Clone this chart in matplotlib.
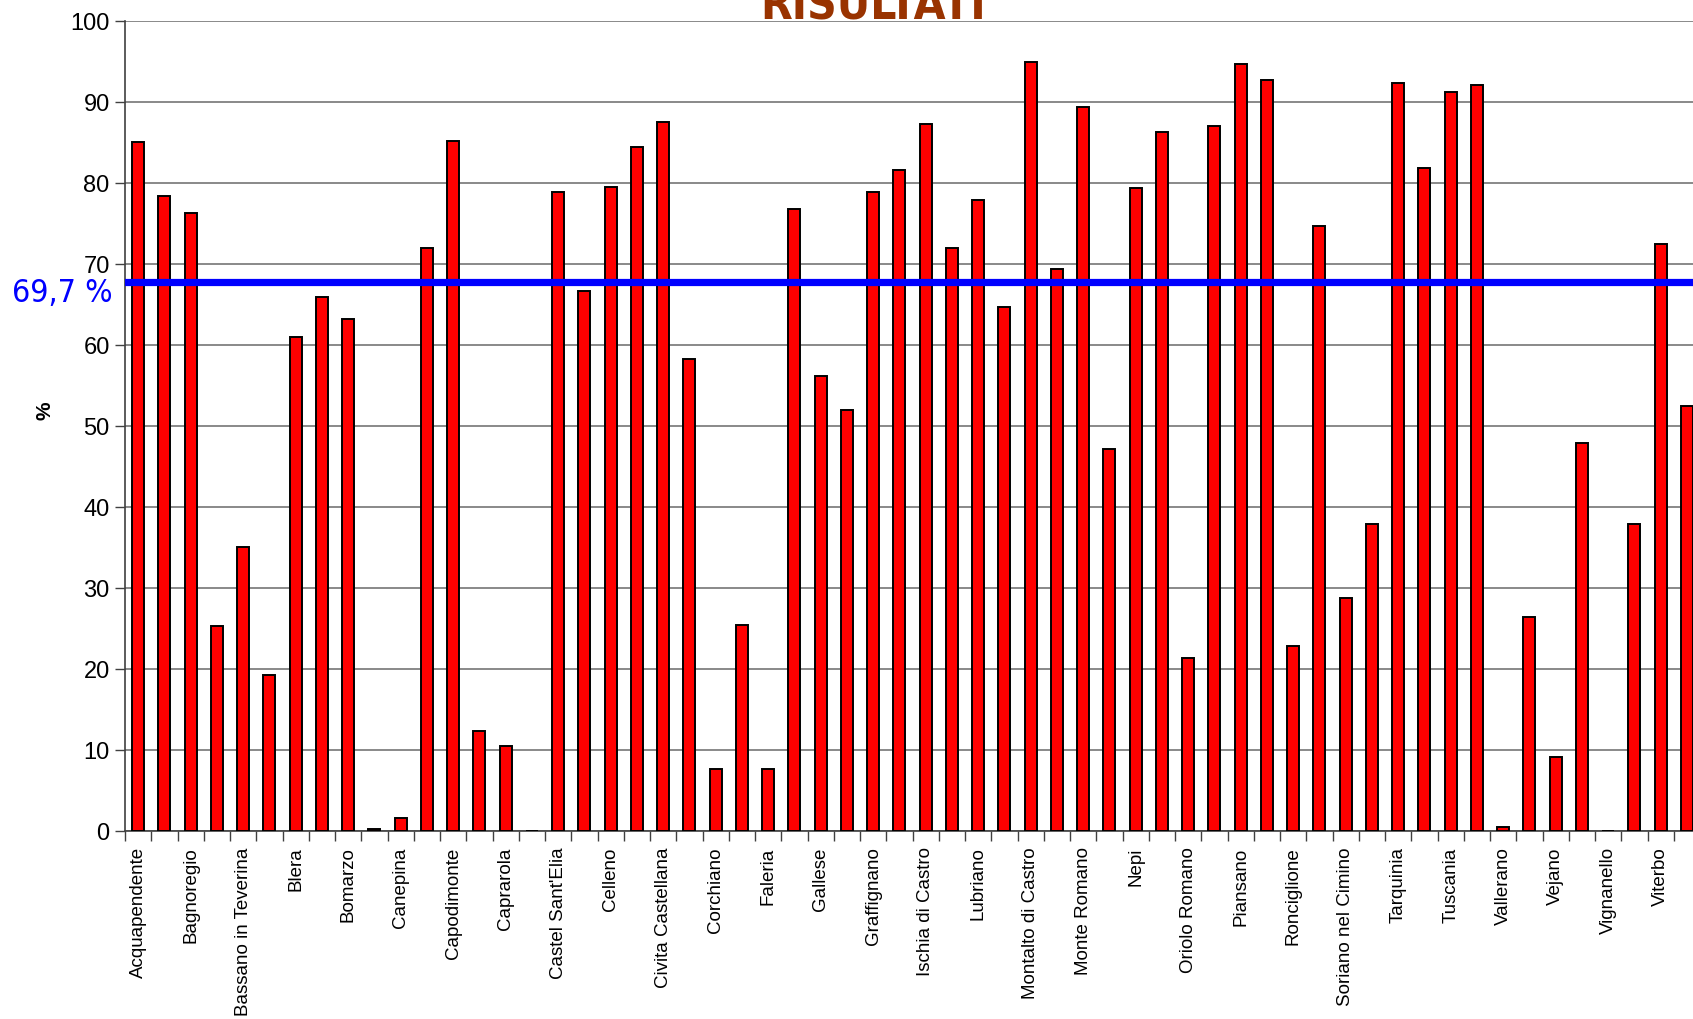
import numpy as np
import matplotlib.pyplot as plt

comuni = ["Acquapendente", "Arlena di Castro", "Bagnoregio", "Barbarano Romano",
          "Bassano in Teverina", "Bassano Romano", "Blera", "Bolsena", "Bomarzo",
          "Calcata", "Canepina", "Canino", "Capodimonte", "Capranica", "Caprarola",
          "Carbognano", "Castel Sant'Elia", "Castiglione in Teverina", "Celleno",
          "Cellere", "Civita Castellana", "Civitella d'Agliano", "Corchiano",
          "Fabrica di Roma", "Faleria", "Farnese", "Gallese", "Gradoli", "Graffignano",
          "Grotte di Castro", "Ischia di Castro", "Latera", "Lubriano", "Marta",
          "Montalto di Castro", "Montefiascone", "Monte Romano", "Monterosi", "Nepi",
          "Onano", "Oriolo Romano", "Orte", "Piansano", "Proceno", "Ronciglione",
          "San Lorenzo Nuovo", "Soriano nel Cimino", "Sutri", "Tarquinia", "Tessennano",
          "Tuscania", "Valentano", "Vallerano", "Vasanello", "Vejano", "Vetralla",
          "Vignanello", "Villa San Giovanni in Tuscia", "Viterbo", "Vitorchiano"]

percentuali = [85.0, 78.3, 76.3, 25.3, 35.0, 19.2, 61.0, 65.9, 63.2, 0.3,
               1.6, 71.9, 85.1, 12.4, 10.5, 0.0, 78.8, 66.6, 79.5, 84.4,
               87.5, 58.2, 7.6, 25.4, 7.6, 76.7, 56.2, 51.9, 78.8, 81.6,
               87.2, 71.9, 77.9, 64.7, 94.9, 69.4, 89.3, 47.1, 79.4, 86.2,
               21.3, 87.0, 94.7, 92.7, 22.8, 74.6, 28.8, 37.9, 92.3, 81.8,
               91.2, 92.1, 0.5, 26.4, 9.1, 47.9, 0.0, 37.9, 72.4, 52.5]

media = 67.7
media_label = "69,7 %"

plt.rcParams['font.family'] = ['Liberation Sans', 'DejaVu Sans']

fig = plt.figure(figsize=(16.93, 10.2), dpi=100)
ax = fig.add_axes([125 / 1693, 1 - 832 / 1020, 1575 / 1693, (832 - 21.6) / 1020])

x = np.arange(len(comuni))
ax.bar(x, percentuali, width=0.46, color='#ff0000', edgecolor='black', linewidth=1.4, zorder=3)
ax.axhline(media, color='#0000ff', linewidth=5.2, zorder=4)

ax.set_xlim(-0.5, len(comuni) - 0.5)
ax.set_ylim(0, 100)
ax.set_yticks(np.arange(0, 101, 10))
ax.yaxis.grid(True, color='#808080', linewidth=1.3, zorder=0)
ax.set_axisbelow(True)

# ticks at category boundaries, labels every other category
ax.set_xticks(np.arange(-0.5, len(comuni), 1))
ax.set_xticklabels([])
ax.set_xticks(x[::2], minor=True)
ax.set_xticklabels(comuni[::2], minor=True, rotation=90, fontsize=13.5)
ax.tick_params(axis='x', which='major', length=7, width=1, color='#404040')
ax.tick_params(axis='x', which='minor', length=0, pad=11)
ax.tick_params(axis='y', length=7, width=1, color='#404040', labelsize=17, pad=4)

for s in ['top', 'right']:
    ax.spines[s].set_visible(False)
ax.spines['left'].set_color('#404040')
ax.spines['bottom'].set_color('#404040')
ax.spines['left'].set_linewidth(1.2)
ax.spines['bottom'].set_linewidth(1.2)

ax.set_ylabel('%', fontsize=15, fontweight='bold')
ax.yaxis.set_label_coords(-0.045, 0.52)

fig.text(12 / 1693, 1 - 293 / 1020, media_label, color='#0000ff', fontsize=23,
         family='DejaVu Sans', stretch='condensed', va='center', ha='left')
fig.text(873 / 1693, 1 - 19 / 1020, "RISULTATI", color='#993300', fontsize=33,
         fontweight='bold', family='DejaVu Sans', stretch='condensed',
         ha='center', va='baseline')

fig.savefig("out.png", dpi=100)
